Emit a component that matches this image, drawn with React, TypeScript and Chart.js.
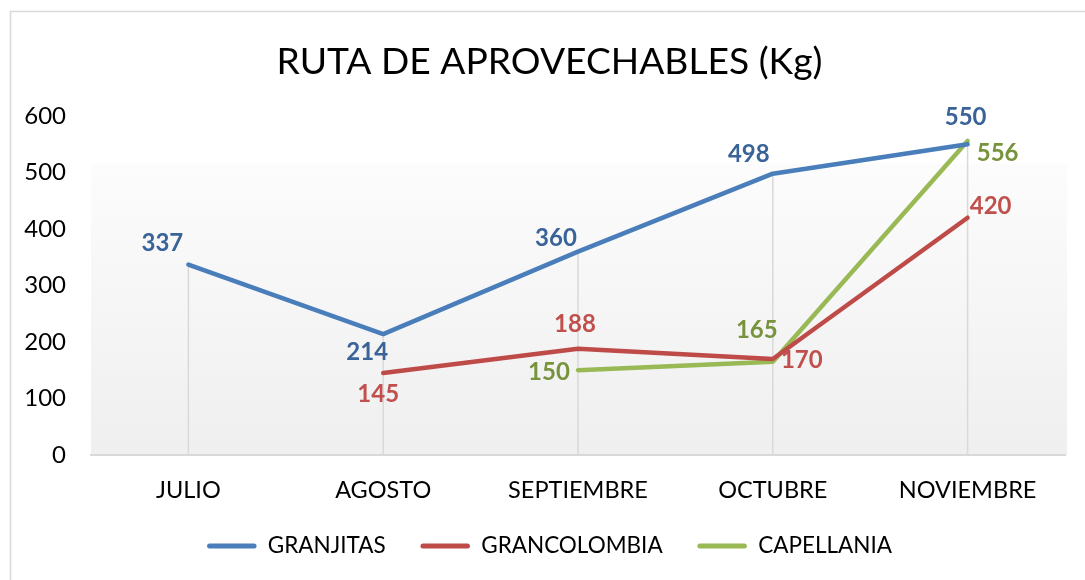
import React, { useEffect, useRef } from 'react';
import { Chart, registerables } from 'chart.js';

Chart.register(...registerables);

const titleText = 'RUTA DE APROVECHABLES (Kg)';
const categories = ['JULIO', 'AGOSTO', 'SEPTIEMBRE', 'OCTUBRE', 'NOVIEMBRE'];
const seriesNames = ['GRANJITAS', 'GRANCOLOMBIA', 'CAPELLANIA'];
const granjitas = [337, 214, 360, 498, 550];
const grancolombia = [null, 145, 188, 170, 420];
const capellania = [null, null, 150, 165, 556];
const yMin = 0;
const yMax = 600;
const yStep = 100;

// styles
const lineColors = ['#4a7ebb', '#be4b48', '#98b954'];
const labelColors = ['#3a6399', '#c0504d', '#77933c'];
// data label offsets (px) relative to each point, per series
const labelOffsets = [
  [[-26, -21], [-16, 18], [-22, -13], [-24, -19], [-2, -27]],
  [null, [-5, 21], [-3, -25], [29, 1], [23, -11]],
  [null, null, [-29, 2], [-16, -32], [30, 12]],
];

const FONT = 'Lato';

const backgroundPlugin = {
  id: 'bgPlugin',
  beforeDraw(chart: any) {
    const { ctx, chartArea } = chart;
    ctx.save();
    ctx.fillStyle = '#ffffff';
    ctx.fillRect(0, 0, chart.width, chart.height);
    ctx.strokeStyle = '#d9d9d9';
    ctx.lineWidth = 1.5;
    ctx.strokeRect(10.5, 11.5, chart.width + 20, chart.height + 20);
    const h = chartArea.bottom - chartArea.top;
    const top = chartArea.top + h * 0.14;
    const g = ctx.createLinearGradient(0, top, 0, chartArea.bottom);
    g.addColorStop(0, '#fcfcfc');
    g.addColorStop(1, '#efefef');
    ctx.fillStyle = g;
    ctx.fillRect(chartArea.left, top, chartArea.right - chartArea.left + 2, chartArea.bottom - top);
    ctx.restore();
  },
};

const dropLinePlugin = {
  id: 'dropLines',
  beforeDatasetsDraw(chart: any) {
    const { ctx, chartArea, scales } = chart;
    ctx.save();
    ctx.strokeStyle = '#d9d9d9';
    ctx.lineWidth = 1.5;
    categories.forEach((_, i) => {
      let mx: number | null = null;
      chart.data.datasets.forEach((ds: any) => {
        const v = ds.data[i];
        if (v !== null && v !== undefined && (mx === null || v > mx)) mx = v;
      });
      if (mx === null) return;
      const x = scales.x.getPixelForValue(i);
      const y = scales.y.getPixelForValue(mx);
      ctx.beginPath();
      ctx.moveTo(x, y);
      ctx.lineTo(x, chartArea.bottom);
      ctx.stroke();
    });
    ctx.restore();
  },
};

const dataLabelPlugin = {
  id: 'dataLabels',
  afterDatasetsDraw(chart: any) {
    const { ctx } = chart;
    ctx.save();
    ctx.font = `bold 24px ${FONT}`;
    ctx.textAlign = 'center';
    ctx.textBaseline = 'middle';
    chart.data.datasets.forEach((ds: any, di: number) => {
      const meta = chart.getDatasetMeta(di);
      meta.data.forEach((pt: any, i: number) => {
        const v = ds.data[i];
        if (v === null || v === undefined) return;
        const off = labelOffsets[di][i] || [0, -20];
        ctx.fillStyle = labelColors[di];
        ctx.fillText(String(v), pt.x + off[0], pt.y + off[1]);
      });
    });
    ctx.restore();
  },
};

export default function App() {
  const ref = useRef<HTMLCanvasElement>(null);
  useEffect(() => {
    if (!ref.current) return;
    const series = [granjitas, grancolombia, capellania];
    const chart = new Chart(ref.current, {
      type: 'line',
      data: {
        labels: categories,
        datasets: series.map((d, i) => ({
          label: seriesNames[i],
          data: d,
          borderColor: lineColors[i],
          backgroundColor: lineColors[i],
          borderWidth: 4.5,
          pointRadius: 0,
          pointHoverRadius: 0,
          tension: 0,
          borderCapStyle: 'round',
          borderJoinStyle: 'round',
          spanGaps: false,
        })) as any,
      },
      options: {
        animation: false,
        responsive: false,
        events: [],
        layout: { padding: { left: 14, right: 0, top: 0, bottom: 12.75 } },
        plugins: {
          tooltip: { enabled: false },
          title: {
            display: true,
            text: titleText,
            color: '#000',
            font: { family: FONT, size: 37.2, weight: 'normal', lineHeight: 1.2 },
            padding: { top: 39.7, bottom: 31.7 },
          },
          legend: {
            position: 'bottom',
            labels: {
              font: { family: FONT, size: 22.5 },
              color: '#000',
              boxWidth: 49.5,
              boxHeight: 5,
              padding: 34.75,
              useBorderRadius: true,
              borderRadius: 2.5,
              generateLabels: (c: any) =>
                c.data.datasets.map((ds: any, i: number) => ({
                  text: ds.label,
                  fillStyle: ds.borderColor,
                  strokeStyle: ds.borderColor,
                  lineWidth: 0,
                  hidden: false,
                  datasetIndex: i,
                  borderRadius: 2.5,
                  fontColor: '#000',
                })),
            },
          },
        },
        scales: {
          x: {
            type: 'category',
            offset: true,
            grid: { display: false, drawTicks: false },
            border: { display: true, color: '#d9d9d9', width: 2 },
            ticks: { font: { family: FONT, size: 23.5 }, color: '#000', padding: 21, maxRotation: 0, autoSkip: false },
            afterFit: (s: any) => { s.height = 45; },
          },
          y: {
            min: yMin,
            max: yMax,
            grid: { display: false, drawTicks: false },
            border: { display: false },
            ticks: { stepSize: yStep, font: { family: FONT, size: 24 }, color: '#000', padding: 25 },
            afterFit: (s: any) => { s.width = 77; },
          },
          yRightSpace: {
            type: 'linear',
            position: 'right',
            display: true,
            min: 0,
            max: 1,
            grid: { display: false, drawTicks: false },
            border: { display: false },
            ticks: { display: false },
            afterFit: (s: any) => { s.width = 20; },
          },
        },
      } as any,
      plugins: [backgroundPlugin, dropLinePlugin, dataLabelPlugin],
    });
    return () => chart.destroy();
  }, []);
  return (
    <div style={{ position: 'fixed', left: 0, top: 0, width: 1085, height: 580, overflow: 'hidden' }}>
      <canvas ref={ref} width={1085} height={580} style={{ display: 'block' }} />
    </div>
  );
}
